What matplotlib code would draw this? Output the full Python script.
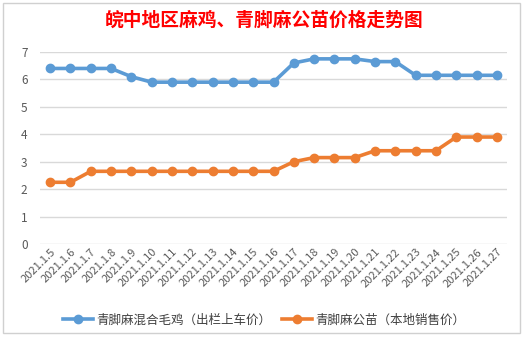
import matplotlib
matplotlib.use("Agg")
import matplotlib.pyplot as plt
from matplotlib.patches import Rectangle

plt.rcParams['font.family'] = ['Noto Sans CJK SC', 'DejaVu Sans']

dates = ["2021.1.5", "2021.1.6", "2021.1.7", "2021.1.8", "2021.1.9", "2021.1.10",
         "2021.1.11", "2021.1.12", "2021.1.13", "2021.1.14", "2021.1.15", "2021.1.16",
         "2021.1.17", "2021.1.18", "2021.1.19", "2021.1.20", "2021.1.21", "2021.1.22",
         "2021.1.23", "2021.1.24", "2021.1.25", "2021.1.26", "2021.1.27"]
mixed_chick = [6.4, 6.4, 6.4, 6.4, 6.1, 5.9, 5.9, 5.9, 5.9, 5.9, 5.9, 5.9,
               6.6, 6.75, 6.75, 6.75, 6.65, 6.65, 6.15, 6.15, 6.15, 6.15, 6.15]
cock_chick = [2.25, 2.25, 2.65, 2.65, 2.65, 2.65, 2.65, 2.65, 2.65, 2.65, 2.65, 2.65,
              3.0, 3.15, 3.15, 3.15, 3.4, 3.4, 3.4, 3.4, 3.9, 3.9, 3.9]
series_names = ["青脚麻混合毛鸡（出栏上车价）", "青脚麻公苗（本地销售价）"]
title = "皖中地区麻鸡、青脚麻公苗价格走势图"

fig = plt.figure(figsize=(5.28, 3.41), dpi=100)
fig.patch.set_facecolor("white")
fig.patches.append(Rectangle((3/528, 8/341), 517/528, 330/341, transform=fig.transFigure,
                             fill=False, edgecolor="#d0d0d0", linewidth=1))

ax = fig.add_axes([40/528, 1 - 244/341, 467/528, (244 - 52)/341])
x = list(range(len(dates)))
ax.plot(x, mixed_chick, color="#5B9BD5", linewidth=2.6, marker="o", markersize=6,
        label=series_names[0])
ax.plot(x, cock_chick, color="#ED7D31", linewidth=2.6, marker="o", markersize=6,
        label=series_names[1])
ax.set_xlim(-0.5, len(dates) - 0.5)
ax.set_ylim(0, 7)
ax.set_yticks(range(0, 8))
ax.yaxis.grid(True, color="#d9d9d9", linewidth=1)
ax.set_axisbelow(True)
for s in ax.spines.values():
    s.set_visible(False)
ax.tick_params(axis="y", length=0, labelsize=8.5, labelcolor="#595959", pad=9)
ax.tick_params(axis="x", length=0, labelsize=8, labelcolor="#595959", pad=2)
ax.set_xticks(x)
ax.set_xticklabels(dates, rotation=45, ha="right", va="top", rotation_mode="anchor")

fig.text(0.5, 1 - 20/341, title, ha="center", va="center", color="red",
         fontsize=13.5, fontweight="bold")

fig.legend(loc="center", bbox_to_anchor=(0.5, 1 - 320/341), ncol=2, frameon=False,
           fontsize=9, labelcolor="#404040", handlelength=2.4, columnspacing=0.8,
           handletextpad=0.3)

fig.savefig("out.png", dpi=100, facecolor="white")
